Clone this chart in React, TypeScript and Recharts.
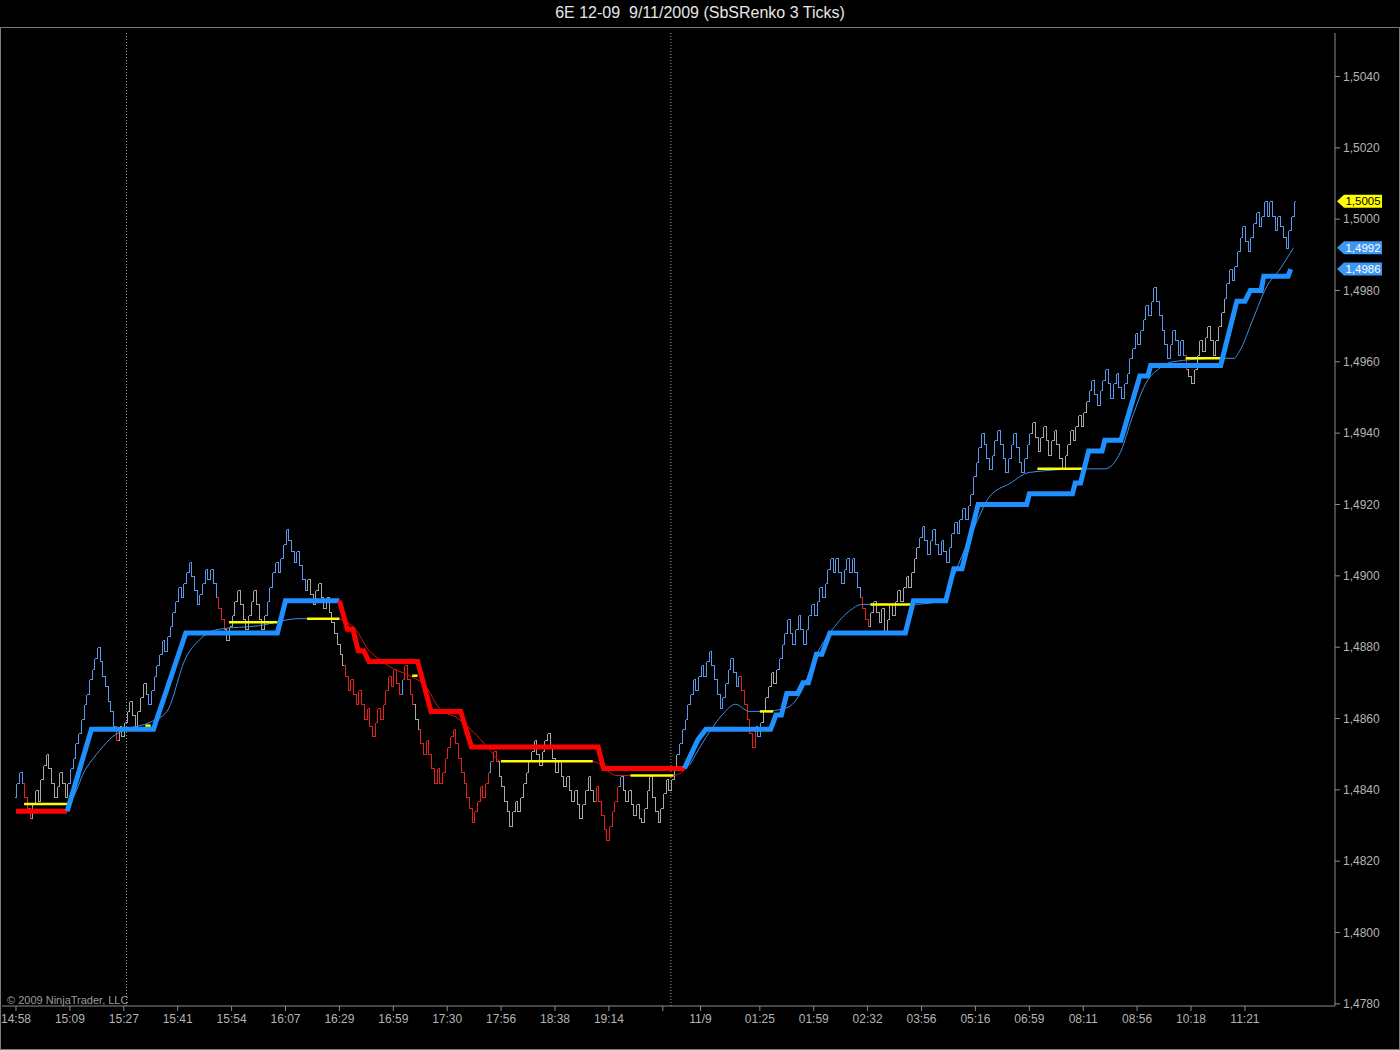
import React from 'react';
import { ComposedChart, Bar, Line, XAxis, YAxis, ReferenceLine } from 'recharts';

// All prices are in pips (0,0001) above 1,4780
const PRICE_BASE = 14780;

// Renko bar closes, one per bar
const closes: number[] = [
  62, 65, 62, 58, 55, 52, 56, 60, 57, 63,
  67, 70, 66, 62, 58, 61, 65, 62, 58, 62,
  66, 69, 73, 76, 80, 84, 87, 91, 94, 97,
  100, 96, 92, 89, 85, 82, 78, 74, 78, 75,
  79, 82, 85, 81, 78, 82, 86, 90, 87, 84,
  88, 92, 95, 98, 102, 99, 103, 106, 110, 113,
  117, 114, 118, 121, 124, 120, 116, 112, 115, 118,
  122, 119, 122, 118, 114, 111, 108, 105, 102, 106,
  109, 113, 116, 112, 108, 105, 109, 113, 116, 112,
  108, 105, 109, 113, 117, 121, 124, 121, 125, 129,
  133, 130, 127, 124, 127, 123, 119, 116, 119, 115,
  112, 116, 118, 114, 111, 114, 110, 107, 104, 101,
  98, 95, 92, 88, 91, 87, 84, 88, 84, 80,
  83, 78, 75, 79, 83, 80, 84, 88, 92, 89,
  94, 90, 87, 91, 95, 91, 87, 84, 80, 77,
  73, 70, 74, 70, 66, 62, 66, 62, 65, 69,
  72, 75, 77, 73, 69, 65, 62, 58, 55, 51,
  54, 57, 61, 58, 62, 65, 68, 71, 68, 64,
  61, 57, 54, 50, 54, 57, 54, 58, 62, 65,
  68, 71, 74, 70, 67, 71, 74, 76, 72, 69,
  65, 68, 64, 61, 64, 60, 57, 60, 56, 52,
  56, 60, 64, 60, 57, 61, 57, 53, 49, 46,
  50, 54, 57, 61, 64, 60, 57, 60, 56, 53,
  56, 52, 51, 55, 60, 64, 58, 54, 51, 55,
  59, 63, 60, 63, 66, 70, 73, 77, 80, 84,
  87, 91, 88, 92, 95, 92, 96, 99, 95, 91,
  87, 83, 86, 90, 94, 97, 93, 89, 92, 88,
  84, 80, 76, 72, 78, 75, 79, 82, 86, 89,
  93, 90, 94, 97, 101, 104, 108, 104, 101, 105,
  109, 105, 101, 105, 109, 112, 109, 113, 117, 114,
  118, 122, 125, 121, 125, 121, 118, 122, 125, 121,
  125, 121, 117, 114, 111, 108, 106, 110, 113, 110,
  107, 111, 104, 108, 112, 109, 113, 116, 113, 117,
  120, 117, 121, 125, 128, 131, 134, 130, 126, 130,
  133, 129, 126, 130, 127, 124, 128, 132, 135, 132,
  136, 139, 136, 140, 143, 148, 152, 156, 160, 157,
  153, 150, 154, 158, 161, 157, 153, 149, 153, 157,
  160, 156, 152, 149, 153, 157, 160, 163, 159, 155,
  159, 162, 158, 154, 158, 161, 157, 153, 150, 154,
  157, 161, 158, 162, 165, 162, 166, 169, 172, 175,
  171, 168, 172, 175, 178, 174, 170, 174, 177, 173,
  170, 174, 177, 181, 184, 188, 185, 189, 192, 196,
  193, 197, 201, 197, 193, 189, 185, 181, 185, 189,
  186, 182, 186, 182, 178, 176, 174, 178, 182, 186,
  183, 187, 190, 186, 182, 186, 190, 194, 198, 202,
  206, 203, 207, 211, 215, 218, 214, 211, 215, 219,
  222, 218, 221, 225, 221, 225, 221, 217, 221, 218,
  215, 212, 217, 221, 225,
];
const firstOpen = 58;

// bar colour runs: [first bar index, colour code]
const colorRuns: [number, string][] = [
  [0, 'b'], [3, 'r'], [6, 'g'], [20, 'b'], [37, 'r'], [38, 'g'], [49, 'b'],
  [75, 'r'], [78, 'g'], [93, 'b'], [108, 'g'], [122, 'r'], [143, 'b'], [144, 'r'],
  [148, 'g'], [150, 'r'], [176, 'b'], [177, 'r'], [179, 'g'], [215, 'r'], [224, 'b'],
  [225, 'g'], [246, 'b'], [269, 'r'], [275, 'b'], [277, 'g'], [283, 'b'], [314, 'r'],
  [317, 'g'], [335, 'b'], [377, 'g'], [398, 'b'], [434, 'r'], [435, 'g'], [449, 'b'],
];

// thick trend-stop line vertices [bar index, pips]
const trendRed1: [number, number][] = [[0, 54], [19, 54]];
const trendBlue1: [number, number][] = [
  [19, 54], [28, 77], [51, 77], [63, 104], [97, 104], [100, 113], [120, 113],
];
const trendRed2: [number, number][] = [
  [120, 113], [123, 105], [125, 105], [127, 99], [129, 99], [131, 96], [149, 96],
  [154, 82], [165, 82], [169, 72], [216, 72], [218, 66], [248, 66],
];
const trendBlue2: [number, number][] = [
  [248, 66], [253, 74], [256, 77], [280, 77], [282, 81], [284, 81], [286, 87], [290, 87],
  [292, 90], [294, 90], [297, 98], [299, 98], [302, 104], [330, 104], [333, 113], [345, 113],
  [348, 122], [351, 122], [357, 140], [375, 140], [376, 143], [392, 143], [393, 146], [395, 146],
  [398, 155], [403, 155], [404, 158], [410, 158], [417, 176], [420, 176], [421, 179], [447, 179],
  [453, 197], [456, 197], [458, 200], [462, 200], [463, 204], [472, 204], [473, 206],
];

// thin average line vertices [bar index, pips]
const thinBlue1: [number, number][] = [
  [3, 56], [19, 56], [26, 66], [31, 71], [36, 75], [41, 77], [50, 79], [56, 82], [63, 97],
  [68, 102], [75, 105], [90, 106], [105, 108], [120, 108],
];
const thinRed: [number, number][] = [
  [120, 108], [127, 104], [130, 100], [134, 97], [140, 94], [146, 92], [152, 89], [157, 83],
  [164, 80], [170, 76], [175, 72], [180, 68], [214, 68], [223, 64], [244, 64], [250, 67],
];
const thinBlue2: [number, number][] = [
  [250, 67], [258, 77], [262, 81], [267, 84], [272, 82], [277, 82], [286, 83], [291, 87],
  [297, 98], [302, 104], [309, 110], [314, 112], [332, 112], [344, 113], [349, 122], [357, 136],
  [361, 142], [369, 146], [376, 149], [397, 150], [404, 150], [410, 155], [414, 164], [420, 175],
  [424, 178], [429, 180], [446, 181], [452, 181], [454, 183], [459, 192], [464, 201], [469, 206],
  [474, 212],
];

// yellow levels [from bar, to bar, pips]
const yellowSegs: [number, number, number][] = [
  [3, 19, 56], [48, 50, 78], [79, 97, 107], [108, 120, 108], [147, 149, 92], [180, 214, 68],
  [228, 244, 64], [276, 281, 82], [317, 332, 112], [379, 397, 150], [434, 447, 181],
];

const xTickIndex = [0, 20, 40, 60, 80, 100, 120, 140, 160, 180, 200, 220, 240, 254, 276, 296, 316, 336, 356, 376, 396, 416, 436, 456];
const xTickLabels = ['14:58', '15:09', '15:27', '15:41', '15:54', '16:07', '16:29', '16:59', '17:30', '17:56', '18:38', '19:14', '', '11/9', '01:25', '01:59', '02:32', '03:56', '05:16', '06:59', '08:11', '08:56', '10:18', '11:21'];
const yTicks = [0, 20, 40, 60, 80, 100, 120, 140, 160, 180, 200, 220, 240, 260];
const sessionBreaks = [41, 243];
const markerValues = [225, 212, 206];
const markerFills = ['#ffff00', '#3d98f2', '#3d98f2'];
const markerTextFills = ['#000000', '#ffffff', '#ffffff'];

const COLORS: Record<string, string> = { b: '#5a96ea', r: '#e4201c', g: '#a6a6a6' };
const SANS = "'Liberation Sans', Arial, sans-serif";

const fmtPrice = (v: number) => ((PRICE_BASE + v) / 10000).toFixed(4).replace('.', ',');

const colorOf = (i: number) => {
  let c = colorRuns[0][1];
  for (const [s, col] of colorRuns) if (i >= s) c = col;
  return c;
};

const seriesKeys: [string, [number, number][]][] = [
  ['trendRed1', trendRed1], ['trendBlue1', trendBlue1], ['trendRed2', trendRed2], ['trendBlue2', trendBlue2],
  ['thinBlue1', thinBlue1], ['thinRed', thinRed], ['thinBlue2', thinBlue2],
];

const rows: any[] = closes.map((c, i) => {
  const o = i === 0 ? firstOpen : closes[i - 1];
  const row: any = { i, open: o, close: c, range: [Math.min(o, c), Math.max(o, c)], color: colorOf(i) };
  for (const [k] of seriesKeys) row[k] = null;
  return row;
});
for (const [k, pts] of seriesKeys) for (const [i, v] of pts) rows[i][k] = v;

const HALF = 1.5;
const BarShape = (props: any) => {
  const { x, y, width, height, payload } = props;
  if (x == null || y == null || !payload) return null;
  const [lo, hi] = payload.range;
  const top = Math.min(y, y + height);
  const bot = Math.max(y, y + height);
  const at = (v: number) => (hi === lo ? top : top + ((hi - v) / (hi - lo)) * (bot - top));
  const cx = Math.round(x + width / 2) + 0.5;
  const yo = Math.round(at(payload.open)) + 0.5;
  const yc = Math.round(at(payload.close)) + 0.5;
  const d = `M${cx - HALF},${yo}H${cx}M${cx},${Math.round(top) + 0.5}V${Math.round(bot) + 0.5}M${cx},${yc}H${cx + HALF}`;
  return <path d={d} stroke={COLORS[payload.color]} strokeWidth={1} fill="none" shapeRendering="crispEdges" />;
};

const makeTag = (idx: number) => (props: any) => {
  const vb = props.viewBox;
  if (!vb) return null;
  const x = vb.x + vb.width + 2;
  const y = vb.y;
  return (
    <g>
      <polygon
        points={`${x},${y} ${x + 7},${y - 6.5} ${x + 45},${y - 6.5} ${x + 45},${y + 6.5} ${x + 7},${y + 6.5}`}
        fill={markerFills[idx]}
      />
      <text x={x + 26} y={y} dy="0.36em" textAnchor="middle" fontSize={11.5} fontFamily={SANS} fill={markerTextFills[idx]}>
        {fmtPrice(markerValues[idx])}
      </text>
    </g>
  );
};

export default function App() {
  return (
    <div style={{ position: 'absolute', left: 0, top: 0, width: 1400, height: 1050, background: '#000', overflow: 'hidden' }}>
      <ComposedChart
        width={1400}
        height={1050}
        data={rows}
        margin={{ top: 33, right: 0, bottom: 0, left: 2 }}
        barCategoryGap={0}
        barGap={0}
      >
        <XAxis
          dataKey="i"
          type="category"
          ticks={xTickIndex}
          interval={0}
          tickFormatter={(v: number) => xTickLabels[xTickIndex.indexOf(v)] ?? ''}
          padding={{ left: 12.65, right: 40.2 }}
          height={44}
          tickSize={5}
          tickMargin={3}
          stroke="#8c8c8c"
          tick={{ fill: '#b4b4b4', fontSize: 12, fontFamily: SANS }}
        />
        <YAxis
          orientation="right"
          type="number"
          domain={[-0.6, 272.2]}
          allowDataOverflow
          ticks={yTicks}
          interval={0}
          width={65}
          tickSize={5}
          tickMargin={3}
          stroke="#8c8c8c"
          tick={{ fill: '#b4b4b4', fontSize: 12, fontFamily: SANS }}
          tickFormatter={fmtPrice}
        />
        {sessionBreaks.map((b) => (
          <ReferenceLine key={'s' + b} x={b} stroke="#9a9a9a" strokeDasharray="1 2" strokeWidth={1} />
        ))}
        <Bar dataKey="range" shape={BarShape} isAnimationActive={false} />
        <Line dataKey="thinBlue1" type="monotone" stroke="#3f8fe0" strokeWidth={1} dot={false} connectNulls isAnimationActive={false} />
        <Line dataKey="thinRed" type="monotone" stroke="#d81414" strokeWidth={1} dot={false} connectNulls isAnimationActive={false} />
        <Line dataKey="thinBlue2" type="monotone" stroke="#3f8fe0" strokeWidth={1} dot={false} connectNulls isAnimationActive={false} />
        {yellowSegs.map(([a, b, p], k) => (
          <ReferenceLine key={'y' + k} segment={[{ x: a, y: p }, { x: b, y: p }]} stroke="#ffff00" strokeWidth={2.5} />
        ))}
        <Line dataKey="trendRed1" type="linear" stroke="#ff0000" strokeWidth={5} dot={false} connectNulls isAnimationActive={false} />
        <Line dataKey="trendBlue1" type="linear" stroke="#1e90ff" strokeWidth={5} dot={false} connectNulls isAnimationActive={false} />
        <Line dataKey="trendRed2" type="linear" stroke="#ff0000" strokeWidth={5} dot={false} connectNulls isAnimationActive={false} />
        <Line dataKey="trendBlue2" type="linear" stroke="#1e90ff" strokeWidth={5} dot={false} connectNulls isAnimationActive={false} />
        {markerValues.map((v, k) => (
          <ReferenceLine key={'m' + k} y={v} stroke="none" ifOverflow="visible" label={makeTag(k)} />
        ))}
      </ComposedChart>
      <div
        style={{
          position: 'absolute', left: 0, top: 27, width: 1398, height: 1021,
          border: '1px solid #7a7a7a', pointerEvents: 'none',
        }}
      />
      <div
        style={{
          position: 'absolute', left: 0, top: 4, width: 1400, textAlign: 'center', whiteSpace: 'pre',
          color: '#e6e6e6', fontFamily: SANS, fontSize: 16, lineHeight: '18px',
        }}
      >
        {'6E 12-09  9/11/2009 (SbSRenko 3 Ticks)'}
      </div>
      <div
        style={{
          position: 'absolute', left: 7, top: 993, color: '#9c9c9c', fontFamily: SANS, fontSize: 11,
          lineHeight: '14px', whiteSpace: 'pre',
        }}
      >
        {'© 2009 NinjaTrader, LLC'}
      </div>
    </div>
  );
}
